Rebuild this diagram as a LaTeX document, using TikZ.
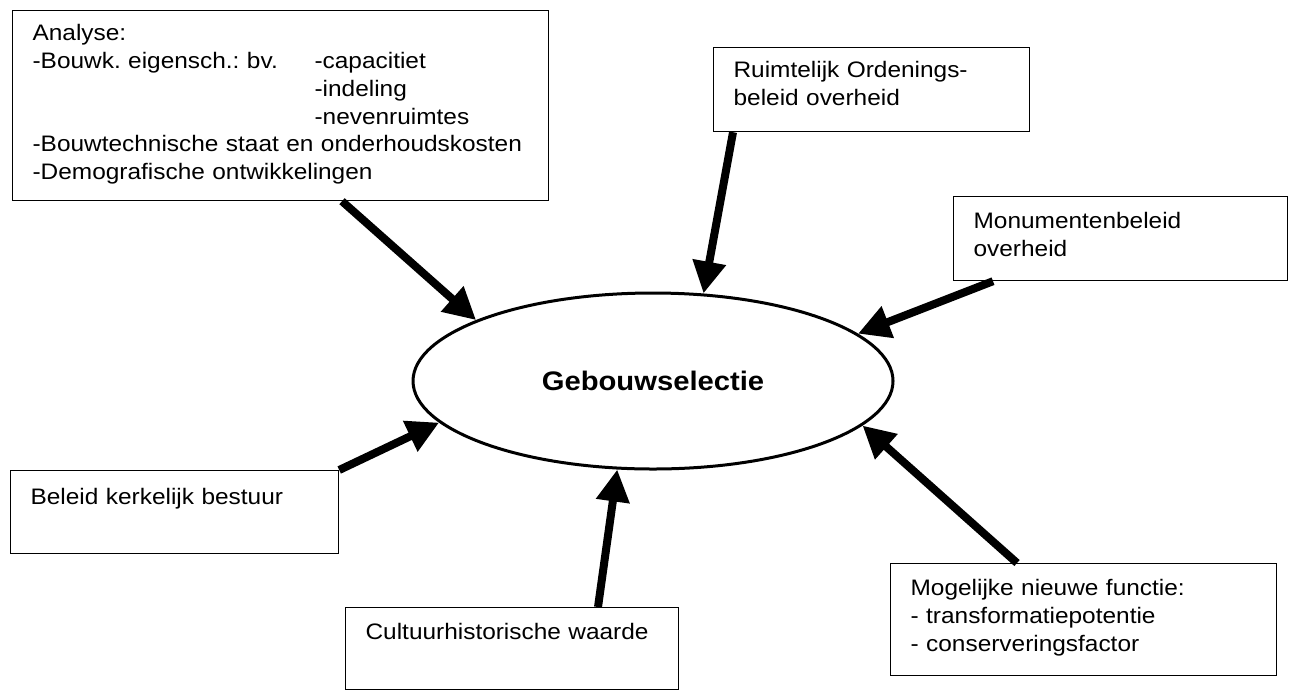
\documentclass[tikz,border=0pt]{standalone}
\usepackage{fontspec}
\setmainfont{Liberation Sans}[FakeStretch=1.09]
\usepackage{tikz}
\usetikzlibrary{positioning,shapes.geometric,arrows.meta}

\begin{document}
\begin{tikzpicture}[x=0.5pt, y=-0.5pt,
  box/.style={draw, line width=0.6pt, anchor=north west, align=left, inner xsep=10pt, inner ysep=0pt,
    font=\fontsize{11.2pt}{13.9pt}\selectfont\frenchspacing},
  arr/.style={->, line width=4pt},
  >={Triangle[length=16pt, width=16pt]}]
\useasboundingbox (0,0) rectangle (1293,691);
\node[ellipse, draw, line width=1.5pt, minimum width=240pt, minimum height=88pt,
  font=\fontsize{13.4pt}{16pt}\selectfont\bfseries] (sel) at (653,381) {Gebouwselectie};
\node[box, text width=248pt, text height=15pt, text depth=80pt] (ana) at (12,10)
  {Analyse:\\
   \makebox[141pt][l]{-Bouwk. eigensch.: bv.}-capacitiet\\
   \hspace*{141pt}-indeling\\
   \hspace*{141pt}-nevenruimtes\\
   -Bouwtechnische staat en onderhoudskosten\\
   -Demografische ontwikkelingen};
\node[box, text width=138pt, text height=15pt, text depth=27pt] (ruim) at (713,47)
  {Ruimtelijk Ordenings-\\ beleid overheid};
\node[box, text width=147pt, text height=16pt, text depth=26pt] (monu) at (953,196)
  {Monumentenbeleid\\ overheid};
\node[box, text width=144pt, text height=17pt, text depth=24.5pt] (kerk) at (10,470)
  {Beleid kerkelijk bestuur};
\node[box, text width=146.5pt, text height=16pt, text depth=25pt] (cult) at (345,607)
  {Cultuurhistorische waarde};
\node[box, text width=173pt, text height=16pt, text depth=40pt] (mog) at (890,563)
  {Mogelijke nieuwe functie:\\ - transformatiepotentie\\ - conserveringsfactor};
\draw[arr] ([xshift=165pt]ana.south west) -- (sel.161);
\draw[arr] ([xshift=10pt]ruim.south west) -- (sel.60);
\draw[arr] ([xshift=20pt]monu.south west) -- (sel.13);
\draw[arr] (kerk.north east) -- (sel.191);
\draw[arr] ([xshift=126.5pt]cult.north west) -- (sel.248);
\draw[arr] ([xshift=63.5pt]mog.north west) -- (sel.348);
\end{tikzpicture}
\end{document}
